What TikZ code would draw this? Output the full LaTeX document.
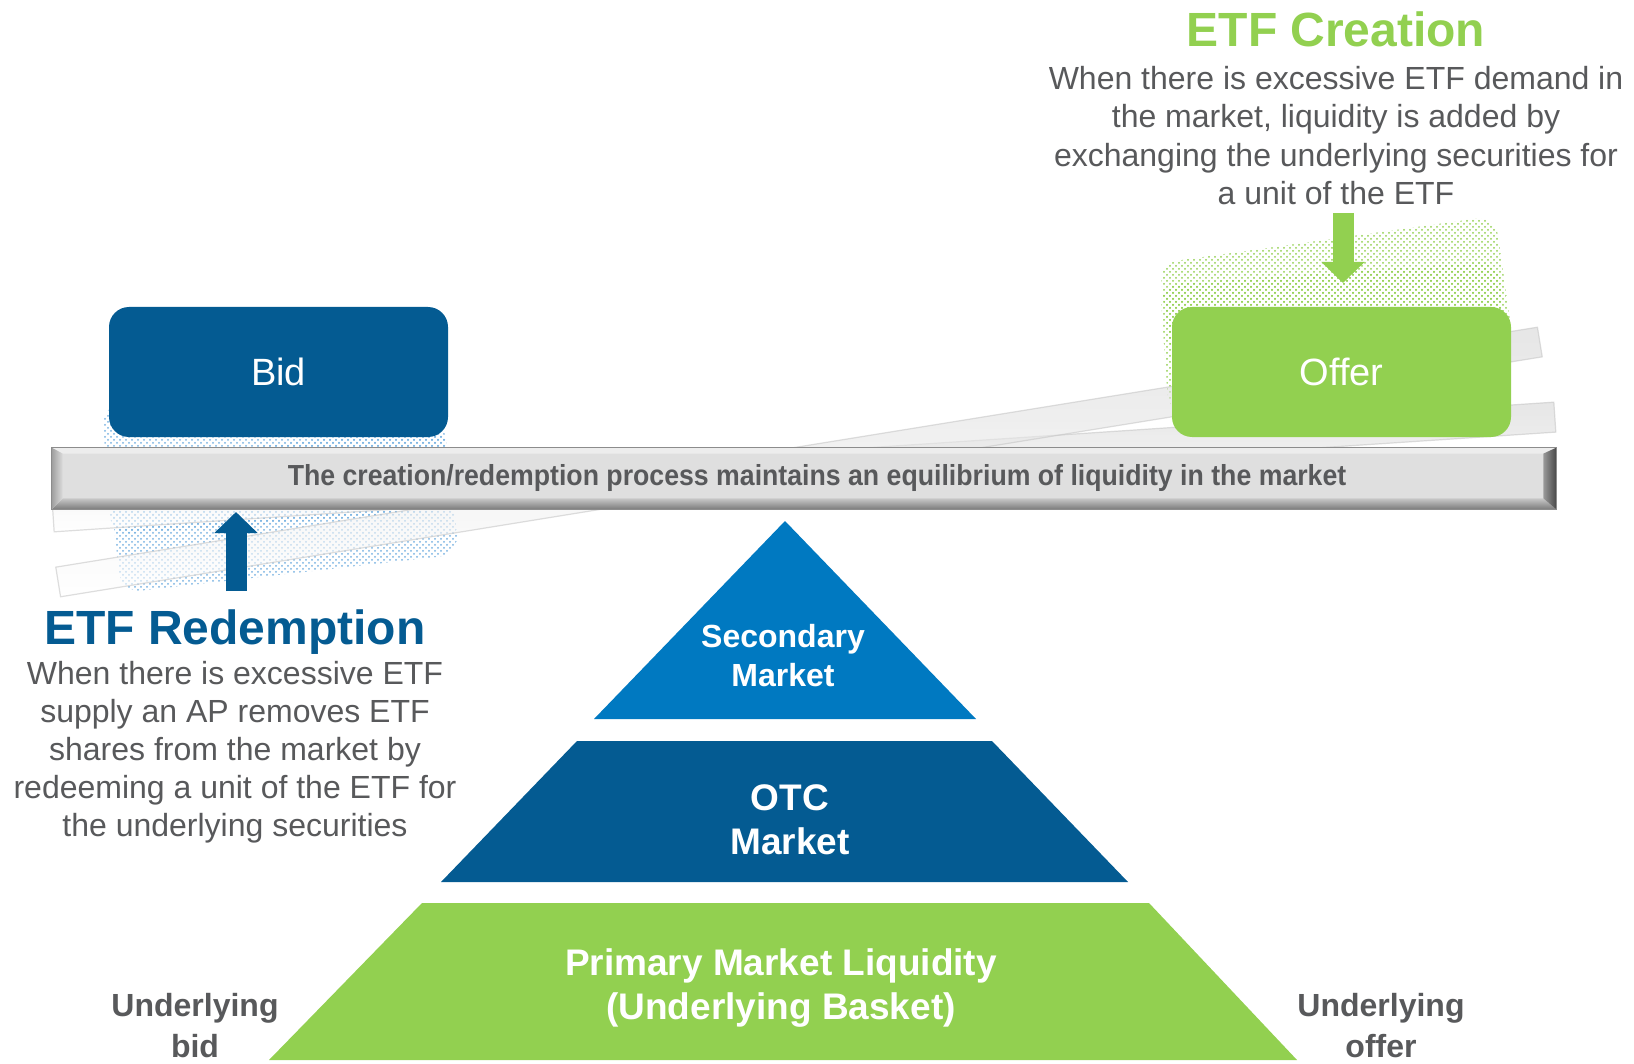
\documentclass[tikz,border=0pt]{standalone}
\usepackage{fontspec}
\setmainfont{Liberation Sans}
\newfontfamily\narrowsf{Liberation Sans}[FakeStretch=0.92]
\usepackage{xcolor}
\definecolor{navy}{HTML}{045B92}
\definecolor{sky}{HTML}{0079C1}
\definecolor{leaf}{HTML}{92D050}
\definecolor{ink2}{HTML}{58595B}
\definecolor{beam}{HTML}{DFDFDF}
\definecolor{dotblue}{HTML}{4A98D8}
\usetikzlibrary{positioning,arrows.meta,calc,patterns}
\newcommand{\fs}[2]{\fontsize{#1}{#2}\selectfont}

\begin{document}
\begin{tikzpicture}[x=0.5pt,y=-0.5pt,
  side/.style={rounded corners=10pt,minimum width=169.5pt,minimum height=65pt,
    inner sep=0pt,font=\fs{19}{23},text=white},
  ghost/.style={rounded corners=10pt,minimum width=170pt,minimum height=65pt,pattern=crosshatch dots},
  ghostbeam/.style={minimum height=15pt,inner sep=0pt,top color=black!16,bottom color=white,
    draw=black!22,line width=0.6pt,opacity=0.6},
  title/.style={font=\fs{24}{28}\bfseries,anchor=base,inner sep=0pt},
  para/.style={font=\fs{16}{19.25},text=ink2,align=center,anchor=north,inner sep=0pt},
  lvl/.style={text=white,align=center,anchor=north,inner sep=0pt},
  arr/.style={-{Triangle[width=21pt,length=10.5pt]},line width=10.5pt}]
\fill[white] (0,0) rectangle (1634,1064);
\useasboundingbox (0,0) rectangle (1634,1064);

% faded positions of the see-saw
\node[ghost,pattern color=dotblue!75,rotate=4] (bidghostA) at (276,458) {};
\node[ghost,pattern color=dotblue!75,rotate=6.5] (bidghostB) at (283,509) {};
\node[ghost,pattern color=leaf,rotate=4] (offerghostA) at (1334,338) {};
\node[ghost,pattern color=leaf,rotate=8] (offerghostB) at (1336,304) {};
\node[ghostbeam,minimum width=752.5pt,rotate=3.8] (beamA) at (804,467) {};
\node[ghostbeam,minimum width=750.5pt,rotate=9.2] (beamB) at (799,462) {};

\node[side,fill=navy] (bid) at (278.5,372) {Bid};
\node[side,fill=leaf] (offer) at (1341.5,372) {Offer};

% the beam
\node[minimum width=752pt,minimum height=30.5pt,inner sep=0pt,fill=beam] (bar) at (804,478.5) {};
\fill[black!7] (bar.north west) -- (bar.north east) -- ($(bar.north east)+(-13,6)$)
  -- ($(bar.north west)+(11,6)$) -- cycle;
\shade[top color=black!22,bottom color=black!52] ($(bar.south west)+(11,-11)$)
  -- ($(bar.south east)+(-13,-11)$) -- (bar.south east) -- (bar.south west) -- cycle;
\shade[left color=black!38,right color=black!14] (bar.north west) -- ($(bar.north west)+(11,6)$)
  -- ($(bar.south west)+(11,-11)$) -- (bar.south west) -- cycle;
\shade[left color=black!40,right color=black!72] (bar.north east) -- ($(bar.north east)+(-13,6)$)
  -- ($(bar.south east)+(-13,-11)$) -- (bar.south east) -- cycle;
\draw[black!45,line width=0.4pt] (bar.north west) rectangle (bar.south east);
\node[inner sep=0pt,font=\narrowsf\fs{14.5}{17}\bfseries,text=ink2] (bartext) at ($(bar.center)+(13,0)$)
  {The creation/redemption process maintains an equilibrium of liquidity in the market};

\node[title,text=leaf] (cretitle) at (1336,47) {ETF Creation};
\node[para] (crepara) at (1336,65.6) {When there is excessive ETF demand in\\the market, liquidity is added by\\exchanging the underlying securities for\\a unit of the ETF};
\node[title,text=navy] (redtitle) at (235,644) {ETF Redemption};
\node[para,font=\fs{16}{19.1}] (redpara) at (235,660.6) {When there is excessive ETF\\supply an AP removes ETF\\shares from the market by\\redeeming a unit of the ETF for\\the underlying securities};

\coordinate (crefoot) at (1343,213);
\coordinate (cretip) at (1343,283);
\coordinate (redfoot) at (236,591);
\coordinate (redtip) at (236,512);
\draw[arr,leaf] (crefoot) -- (cretip);
\draw[arr,navy] (redfoot) -- (redtip);

% market pyramid
\fill[sky] (785,521) -- (976,719) -- (594,719) -- cycle;
\fill[navy] (577,741) -- (992,741) -- (1128,882) -- (441,882) -- cycle;
\fill[leaf] (422,903) -- (1149,903) -- (1297,1060) -- (269,1060) -- cycle;
\node[lvl,font=\fs{16}{19.5}\bfseries] (secname) at (783,623.6) {Secondary\\Market};
\node[lvl,font=\fs{18.5}{22}\bfseries] (otcname) at (790,784) {OTC\\Market};
\node[lvl,font=\fs{18.5}{22}\bfseries] (primname) at (781,948) {Primary Market Liquidity\\(Underlying Basket)};
\node[para,font=\fs{16}{20.5}\bfseries] (undbid) at (195,993) {Underlying\\bid};
\node[para,font=\fs{16}{20.5}\bfseries] (undoffer) at (1381,993) {Underlying\\offer};
\end{tikzpicture}
\end{document}
